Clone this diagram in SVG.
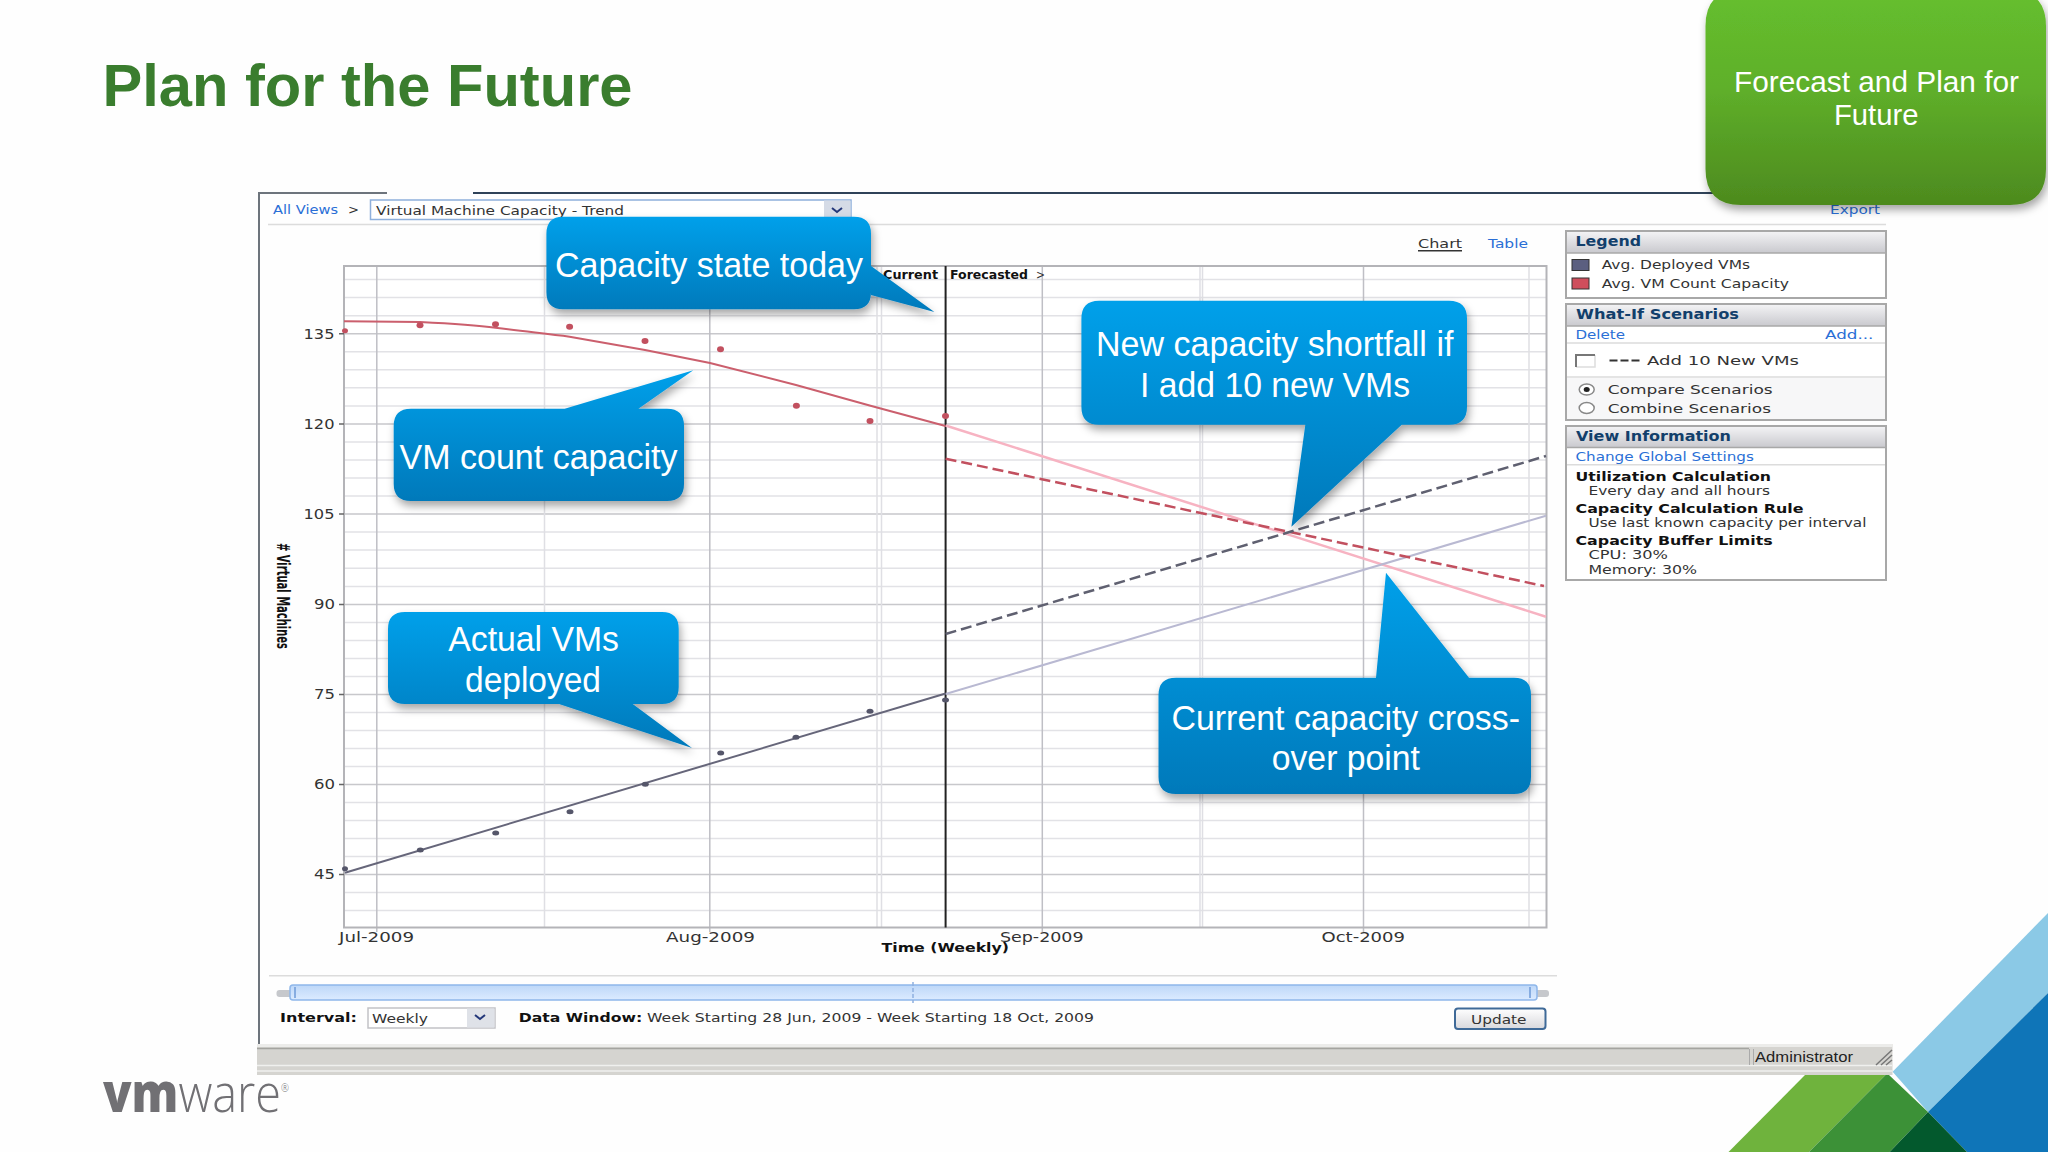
<svg xmlns="http://www.w3.org/2000/svg" width="2048" height="1152" viewBox="0 0 2048 1152">
<style>
text{font-family:"DejaVu Sans",Verdana,sans-serif;font-size:13px;fill:#333}
.b{font-weight:bold;fill:#111}
.h{font-weight:bold;fill:#123f6b;font-size:14px}
.l{fill:#2a6fd6}
.ax{font-size:14px;fill:#333}
.c{font-family:"Liberation Sans",Arial,sans-serif;font-size:35px;fill:#fff}
.callout{fill:url(#blue);filter:url(#sh)}
.panel{fill:#fff;stroke:#a8a8a8;stroke-width:2}
.head{fill:url(#hd)}
.sep{stroke:#dcdcdc;stroke-width:1.5;fill:none}
.dr{fill:#c2505f}.dg{fill:#55566a}
</style>
<defs>
<linearGradient id="blue" x1="0" y1="0" x2="0" y2="1"><stop offset="0" stop-color="#00a0ea"/><stop offset="1" stop-color="#0079ba"/></linearGradient>
<linearGradient id="green" x1="0" y1="0" x2="0" y2="1"><stop offset="0" stop-color="#66bf2e"/><stop offset="0.45" stop-color="#5fb02a"/><stop offset="1" stop-color="#4d8a1e"/></linearGradient>
<linearGradient id="hd" x1="0" y1="0" x2="0" y2="1"><stop offset="0" stop-color="#f2f2f4"/><stop offset="1" stop-color="#c9c9ce"/></linearGradient>
<linearGradient id="track" x1="0" y1="0" x2="0" y2="1"><stop offset="0" stop-color="#bdd7f8"/><stop offset="1" stop-color="#dcebff"/></linearGradient>
<linearGradient id="btn" x1="0" y1="0" x2="0" y2="1"><stop offset="0" stop-color="#fff"/><stop offset="1" stop-color="#d8d8dc"/></linearGradient>
<filter id="sh" x="-10%" y="-10%" width="120%" height="125%"><feDropShadow dx="2" dy="5" stdDeviation="4" flood-color="#000" flood-opacity="0.35"/></filter>
</defs>
<rect width="2048" height="1152" fill="#fefefe"/>

<g id="corner">
<polygon points="2048,913 1892.6,1071.7 1928,1112 2048,993" fill="#8bc9e6"/>
<polygon points="2048,993 1928,1112 1967,1152 2048,1152" fill="#0f75b8"/>
<polygon points="1805,1075 1885.5,1075 1809,1152 1728.5,1152" fill="#6fb33d"/>
<polygon points="1885.5,1075 1889,1075 1928,1112 1889.7,1152 1809,1152" fill="#3c9137"/>
<polygon points="1928,1112 1967,1152 1889.7,1152" fill="#03592d"/>
</g>

<text id="title" x="102.500" y="106.300" textLength="530" lengthAdjust="spacingAndGlyphs" style="font-family:'Liberation Sans',Arial,sans-serif;font-size:60px;font-weight:bold;fill:#3a7d2e">Plan for the Future</text>

<g id="logo">
<text x="103" y="1111.500" textLength="186" lengthAdjust="spacingAndGlyphs" style="font-family:'Open Sans','Liberation Sans',Arial,sans-serif;font-size:54px;font-weight:300;fill:#717074"><tspan font-weight="800">vm</tspan>ware<tspan font-size="11" dy="-20">®</tspan></text>
</g>

<g id="window">
<path d="M259 1044V193H387" fill="none" stroke="#6d747c" stroke-width="2"/>
<path d="M473 193H1720" fill="none" stroke="#2f4258" stroke-width="2"/>
<path d="M268 224.500H1886M269 975.700H1557" class="sep"/>
<text class="l" x="273" y="214" textLength="65" lengthAdjust="spacingAndGlyphs">All Views</text>
<text x="348" y="214" textLength="11" lengthAdjust="spacingAndGlyphs">&gt;</text>
<rect x="370.500" y="200" width="480.500" height="19.500" fill="#fff" stroke="#8fb0dc" stroke-width="1.500"/>
<rect x="824" y="200.500" width="26.500" height="18.500" fill="#d5dbe6"/>
<path d="M832 208l5 4 5-4" fill="none" stroke="#24387a" stroke-width="2"/>
<text x="376" y="214.700" textLength="248" lengthAdjust="spacingAndGlyphs">Virtual Machine Capacity - Trend</text>
<text class="l" x="1830" y="213.800" textLength="50" lengthAdjust="spacingAndGlyphs">Export</text>
<text x="1418" y="248" textLength="44" lengthAdjust="spacingAndGlyphs">Chart</text>
<path d="M1418 250.800H1462" stroke="#333" stroke-width="1.500"/>
<text class="l" x="1488" y="248" textLength="40" lengthAdjust="spacingAndGlyphs">Table</text>
</g>

<g id="chart">
<rect x="344" y="266" width="1202.500" height="661.500" fill="#fff"/>
<path d="M344 279.600H1546M344 297.600H1546M344 315.700H1546M344 351.700H1546M344 369.800H1546M344 387.800H1546M344 405.900H1546M344 442H1546M344 460H1546M344 478H1546M344 496H1546M344 532H1546M344 550H1546M344 568.300H1546M344 586.500H1546M344 622.500H1546M344 640.500H1546M344 658.500H1546M344 676.500H1546M344 712.500H1546M344 730.500H1546M344 748.500H1546M344 766.500H1546M344 802.500H1546M344 820.500H1546M344 838.500H1546M344 856.500H1546M344 892.500H1546M344 910.500H1546" stroke="#e2e2e6" stroke-width="1.500" fill="none"/>
<path d="M344 333.700H1546M344 424H1546M344 514H1546M344 604.500H1546M344 694.500H1546M344 784.500H1546M344 874.500H1546" stroke="#c8c8cc" stroke-width="1.500" fill="none"/>
<path d="M544.500 266V927M877 266V927M881.500 266V927M1200 266V927M1202.500 266V927M1529 266V927" stroke="#dfdfe4" stroke-width="1.500" fill="none"/>
<path d="M376.800 266V932M709.800 266V932M1042.300 266V932M1363.500 266V932" stroke="#bfbfc5" stroke-width="1.500" fill="none"/>
<rect x="344" y="266" width="1202.500" height="661.500" fill="none" stroke="#b4b4b8" stroke-width="2"/>
<path d="M339 333.700H344M339 424H344M339 514H344M339 604.500H344M339 694.500H344M339 784.500H344M339 874.500H344" stroke="#666" stroke-width="1.500"/>
<path d="M945.600 266V927.500" stroke="#222" stroke-width="2"/>
<g class="ax">
<text class="ax" x="303.500" y="338.500" textLength="31" lengthAdjust="spacingAndGlyphs">135</text>
<text class="ax" x="303.500" y="429" textLength="31" lengthAdjust="spacingAndGlyphs">120</text>
<text class="ax" x="303.500" y="519" textLength="31" lengthAdjust="spacingAndGlyphs">105</text>
<text class="ax" x="314" y="608.500" textLength="21" lengthAdjust="spacingAndGlyphs">90</text>
<text class="ax" x="314" y="699" textLength="21" lengthAdjust="spacingAndGlyphs">75</text>
<text class="ax" x="314" y="789" textLength="21" lengthAdjust="spacingAndGlyphs">60</text>
<text class="ax" x="314" y="879" textLength="21" lengthAdjust="spacingAndGlyphs">45</text>
<text class="ax" x="339" y="941.500" textLength="75" lengthAdjust="spacingAndGlyphs">Jul-2009</text>
<text class="ax" x="666" y="941.500" textLength="89" lengthAdjust="spacingAndGlyphs">Aug-2009</text>
<text class="ax" x="1000" y="941.500" textLength="83.500" lengthAdjust="spacingAndGlyphs">Sep-2009</text>
<text class="ax" x="1321.500" y="941.500" textLength="83.500" lengthAdjust="spacingAndGlyphs">Oct-2009</text>
</g>
<text class="b" x="881.500" y="952" textLength="127.500" lengthAdjust="spacingAndGlyphs">Time (Weekly)</text>
<text class="b" transform="translate(277 543) rotate(90)" textLength="106" lengthAdjust="spacingAndGlyphs" style="font-size:17px"># Virtual Machines</text>
<text class="b" x="883" y="279" textLength="55" lengthAdjust="spacingAndGlyphs" style="font-size:12px">Current</text>
<text class="b" x="950" y="279" textLength="78" lengthAdjust="spacingAndGlyphs" style="font-size:12px">Forecasted</text>
<text x="1036" y="279" textLength="9" lengthAdjust="spacingAndGlyphs" style="font-size:12px">&gt;</text>

<path d="M945.600 425.500L1546 616.700" fill="none" stroke="#f7b3c2" stroke-width="2.500"/>
<path d="M945.600 694L1546 515.700" fill="none" stroke="#b9b9d2" stroke-width="2"/>
<path d="M945.600 458.700L1544 586" fill="none" stroke="#c2505f" stroke-width="2.500" stroke-dasharray="11 5"/>
<path d="M945.600 634L1546 456" fill="none" stroke="#5f6070" stroke-width="2.500" stroke-dasharray="11 5"/>
<path d="M344 321.300C380 321.500 410 321.800 420 322C450 323.500 475 325 495.500 327.700C520 331 545 333.500 569.600 336.700L645 350L710 363L796 385L870.500 405.700L945.500 426" fill="none" stroke="#cb5f6d" stroke-width="2"/>
<path d="M345 872.700L945.600 693.500" fill="none" stroke="#66667a" stroke-width="2"/>
<g class="dr">
<ellipse cx="345" cy="330.700" rx="3" ry="2.500"/><ellipse cx="420" cy="325.300" rx="3.500" ry="3"/><ellipse cx="495.500" cy="324.300" rx="3.500" ry="3"/><ellipse cx="569.600" cy="326.700" rx="3.500" ry="3"/><ellipse cx="645" cy="341" rx="3.500" ry="3"/><ellipse cx="720.500" cy="349.300" rx="3.500" ry="3"/><ellipse cx="796.400" cy="405.700" rx="3.500" ry="3"/><ellipse cx="870" cy="421" rx="3.500" ry="3"/><ellipse cx="945.500" cy="416" rx="3.500" ry="3"/>
</g>
<g class="dg">
<ellipse cx="345" cy="868.700" rx="3" ry="2.500"/><ellipse cx="420.300" cy="850" rx="3.500" ry="2.500"/><ellipse cx="495.700" cy="833" rx="3.500" ry="2.500"/><ellipse cx="570" cy="811.700" rx="3.500" ry="2.500"/><ellipse cx="645.300" cy="784.300" rx="3.500" ry="2.500"/><ellipse cx="720.700" cy="753" rx="3.500" ry="2.500"/><ellipse cx="796" cy="737.300" rx="3.500" ry="2.500"/><ellipse cx="870" cy="711.300" rx="3.500" ry="2.500"/><ellipse cx="945.500" cy="700" rx="3.500" ry="2.500"/>
</g>
</g>

<g id="range-bar">
<rect x="276.500" y="990" width="20" height="7" rx="3" fill="#c6c8cc"/>
<rect x="1530" y="990" width="19" height="7" rx="3" fill="#c6c8cc"/>
<rect x="290" y="985" width="1247" height="15" rx="3" fill="url(#track)" stroke="#8fb7ea" stroke-width="1.500"/>
<path d="M295 987V998M1530 987V998" stroke="#6f9bd8" stroke-width="1.500" fill="none"/>
<path d="M913 982V1003" stroke="#8fb0e0" stroke-width="1.500" stroke-dasharray="4 2" fill="none"/>
<text class="b" x="280" y="1021.700" textLength="77" lengthAdjust="spacingAndGlyphs">Interval:</text>
<rect x="368" y="1008" width="127" height="20" fill="#fff" stroke="#c2c2c6" stroke-width="1.500"/>
<rect x="467" y="1008.500" width="27.500" height="19" fill="#dfe2e8"/>
<path d="M475 1015l5 4 5-4" fill="none" stroke="#24387a" stroke-width="2"/>
<text x="372" y="1023" textLength="56" lengthAdjust="spacingAndGlyphs">Weekly</text>
<text class="b" x="518.700" y="1022" textLength="123.500" lengthAdjust="spacingAndGlyphs">Data Window:</text>
<text x="647" y="1022" textLength="447" lengthAdjust="spacingAndGlyphs">Week Starting 28 Jun, 2009 - Week Starting 18 Oct, 2009</text>
<rect x="1455" y="1008.500" width="90.500" height="20.500" rx="3" fill="url(#btn)" stroke="#3f6a98" stroke-width="2"/>
<text x="1471" y="1024" textLength="55.500" lengthAdjust="spacingAndGlyphs">Update</text>
</g>

<g id="legend">
<rect class="panel" x="1566" y="231" width="320" height="67"/>
<rect class="head" x="1567" y="232" width="318" height="21"/>
<path d="M1566 253H1886" stroke="#a8a8a8" stroke-width="1.500"/>
<text class="h" x="1575.500" y="246.400" textLength="65.500" lengthAdjust="spacingAndGlyphs">Legend</text>
<rect x="1572" y="259.500" width="17" height="11" fill="#5b5f80" stroke="#333" stroke-width="1"/>
<rect x="1572" y="278" width="17" height="11" fill="#cf4e5c" stroke="#333" stroke-width="1"/>
<text x="1601.700" y="269.300" textLength="148.300" lengthAdjust="spacingAndGlyphs">Avg. Deployed VMs</text>
<text x="1601.700" y="288" textLength="187.300" lengthAdjust="spacingAndGlyphs">Avg. VM Count Capacity</text>
</g>

<g id="what-if">
<rect class="panel" x="1566" y="304" width="320" height="116"/>
<rect class="head" x="1567" y="305" width="318" height="21"/>
<rect x="1567" y="378" width="318" height="41" fill="#f7f7f8"/>
<path d="M1566 326H1886" stroke="#a8a8a8" stroke-width="1.500"/>
<path d="M1567 343H1885M1567 377H1885" class="sep"/>
<text class="h" x="1576" y="319" textLength="163" lengthAdjust="spacingAndGlyphs">What-If Scenarios</text>
<text class="l" x="1575.500" y="339" textLength="49.500" lengthAdjust="spacingAndGlyphs">Delete</text>
<text class="l" x="1825" y="339" textLength="48.400" lengthAdjust="spacingAndGlyphs">Add...</text>
<path d="M1595 355V367H1576" fill="none" stroke="#ddd" stroke-width="1.500"/>
<path d="M1595 355H1576V367" fill="none" stroke="#777" stroke-width="2"/>
<path d="M1609.500 360.500H1641" stroke="#333" stroke-width="2" stroke-dasharray="8 3"/>
<text x="1647" y="365" textLength="152" lengthAdjust="spacingAndGlyphs">Add 10 New VMs</text>
<ellipse cx="1586.700" cy="389.600" rx="7.500" ry="5.500" fill="#fff" stroke="#888" stroke-width="1.500"/>
<ellipse cx="1586.700" cy="389.600" rx="3" ry="2.500" fill="#222"/>
<ellipse cx="1586.700" cy="408" rx="7.500" ry="5.500" fill="#fff" stroke="#888" stroke-width="1.500"/>
<text x="1607.700" y="394" textLength="165" lengthAdjust="spacingAndGlyphs">Compare Scenarios</text>
<text x="1607.700" y="412.600" textLength="163.300" lengthAdjust="spacingAndGlyphs">Combine Scenarios</text>
</g>

<g id="view-information">
<rect class="panel" x="1566" y="426" width="320" height="154"/>
<rect class="head" x="1567" y="427" width="318" height="20.500"/>
<path d="M1566 447.500H1886" stroke="#a8a8a8" stroke-width="1.500"/>
<path d="M1567 464.700H1885" class="sep"/>
<text class="h" x="1576" y="441" textLength="155" lengthAdjust="spacingAndGlyphs">View Information</text>
<text class="l" x="1575.500" y="461" textLength="178.300" lengthAdjust="spacingAndGlyphs">Change Global Settings</text>
<text class="b" x="1575.500" y="480.500" textLength="195.500" lengthAdjust="spacingAndGlyphs">Utilization Calculation</text>
<text x="1588.500" y="495" textLength="181.500" lengthAdjust="spacingAndGlyphs">Every day and all hours</text>
<text class="b" x="1575.500" y="512.600" textLength="228" lengthAdjust="spacingAndGlyphs">Capacity Calculation Rule</text>
<text x="1588.500" y="527" textLength="277.900" lengthAdjust="spacingAndGlyphs">Use last known capacity per interval</text>
<text class="b" x="1575.500" y="545" textLength="197.200" lengthAdjust="spacingAndGlyphs">Capacity Buffer Limits</text>
<text x="1588.500" y="559.400" textLength="79.500" lengthAdjust="spacingAndGlyphs">CPU: 30%</text>
<text x="1588.500" y="574" textLength="108.500" lengthAdjust="spacingAndGlyphs">Memory: 30%</text>
</g>

<g id="status-bar">
<rect x="257" y="1044" width="1635.500" height="31" fill="#d5d4d0"/>
<rect x="257" y="1044" width="1635.500" height="3" fill="#ececea"/>
<path d="M257 1048.500H1749" stroke="#a4a4a0" stroke-width="1.500"/>
<path d="M257 1065.500H1892M257 1071H1892" stroke="#f0f0ee" stroke-width="1.500"/>
<path d="M1749.500 1049V1065M1753.500 1049V1065" stroke="#aaa" stroke-width="1"/>
<text x="1755" y="1061.700" textLength="98" lengthAdjust="spacingAndGlyphs" style="font-family:'Liberation Sans',Arial,sans-serif;font-size:14px;fill:#222">Administrator</text>
<path d="M1876 1065L1892 1050M1881 1065L1892 1055M1886 1065L1892 1060" stroke="#777" stroke-width="1.500"/>
</g>

<g id="callout-capacity-today">
<path class="callout" d="M563 216.700H854Q871 216.700 871 233.700V266L934.400 312L871 295V292.300Q871 309.300 854 309.300H563Q546.400 309.300 546.400 292.300V233.700Q546.400 216.700 563 216.700Z"/>
<text class="c" x="555" y="276.500" textLength="308" lengthAdjust="spacingAndGlyphs">Capacity state today</text>
</g>
<g id="callout-vm-count">
<path class="callout" d="M411 408.700H564.700L693.300 370.300L638.400 408.700H667Q684 408.700 684 425.700V484Q684 501 667 501H411Q393.700 501 393.700 484V425.700Q393.700 408.700 411 408.700Z"/>
<text class="c" x="399.500" y="468.500" textLength="278" lengthAdjust="spacingAndGlyphs">VM count capacity</text>
</g>
<g id="callout-new-shortfall">
<path class="callout" d="M1099 300.700H1449Q1467 300.700 1467 318.700V406.700Q1467 424.700 1449 424.700H1401.700L1291.400 526.700L1305.300 424.700H1099Q1081.400 424.700 1081.400 406.700V318.700Q1081.400 300.700 1099 300.700Z"/>
<text class="c" x="1096" y="355.500" textLength="357.400" lengthAdjust="spacingAndGlyphs">New capacity shortfall if</text>
<text class="c" x="1140" y="396.500" textLength="270" lengthAdjust="spacingAndGlyphs">I add 10 new VMs</text>
</g>
<g id="callout-actual">
<path class="callout" d="M405 612H662Q678.700 612 678.700 629V687Q678.700 704 662 704H632.700L692 748L559 704H405Q388 704 388 687V629Q388 612 405 612Z"/>
<text class="c" x="448.300" y="650.700" textLength="170.700" lengthAdjust="spacingAndGlyphs">Actual VMs</text>
<text class="c" x="465" y="691.500" textLength="136" lengthAdjust="spacingAndGlyphs">deployed</text>
</g>
<g id="callout-crossover">
<path class="callout" d="M1176 677.700H1376L1386 572.700L1469 677.700H1514Q1531 677.700 1531 695V777Q1531 794 1514 794H1176Q1158.500 794 1158.500 777V695Q1158.500 677.700 1176 677.700Z"/>
<text class="c" x="1171.500" y="729.500" textLength="348.500" lengthAdjust="spacingAndGlyphs">Current capacity cross-</text>
<text class="c" x="1271.700" y="769.500" textLength="148.300" lengthAdjust="spacingAndGlyphs">over point</text>
</g>
<g id="callout-forecast">
<path d="M1741 -10H2010Q2046 -10 2046 26V169Q2046 205 2010 205H1741Q1705.500 205 1705.500 169V26Q1705.500 -10 1741 -10Z" fill="url(#green)" filter="url(#sh)"/>
<text x="1734" y="92" textLength="285" lengthAdjust="spacingAndGlyphs" style="font-family:'Liberation Sans',Arial,sans-serif;font-size:30px;fill:#fff">Forecast and Plan for</text>
<text x="1834" y="124.500" textLength="84.500" lengthAdjust="spacingAndGlyphs" style="font-family:'Liberation Sans',Arial,sans-serif;font-size:30px;fill:#fff">Future</text>
</g>
</svg>
